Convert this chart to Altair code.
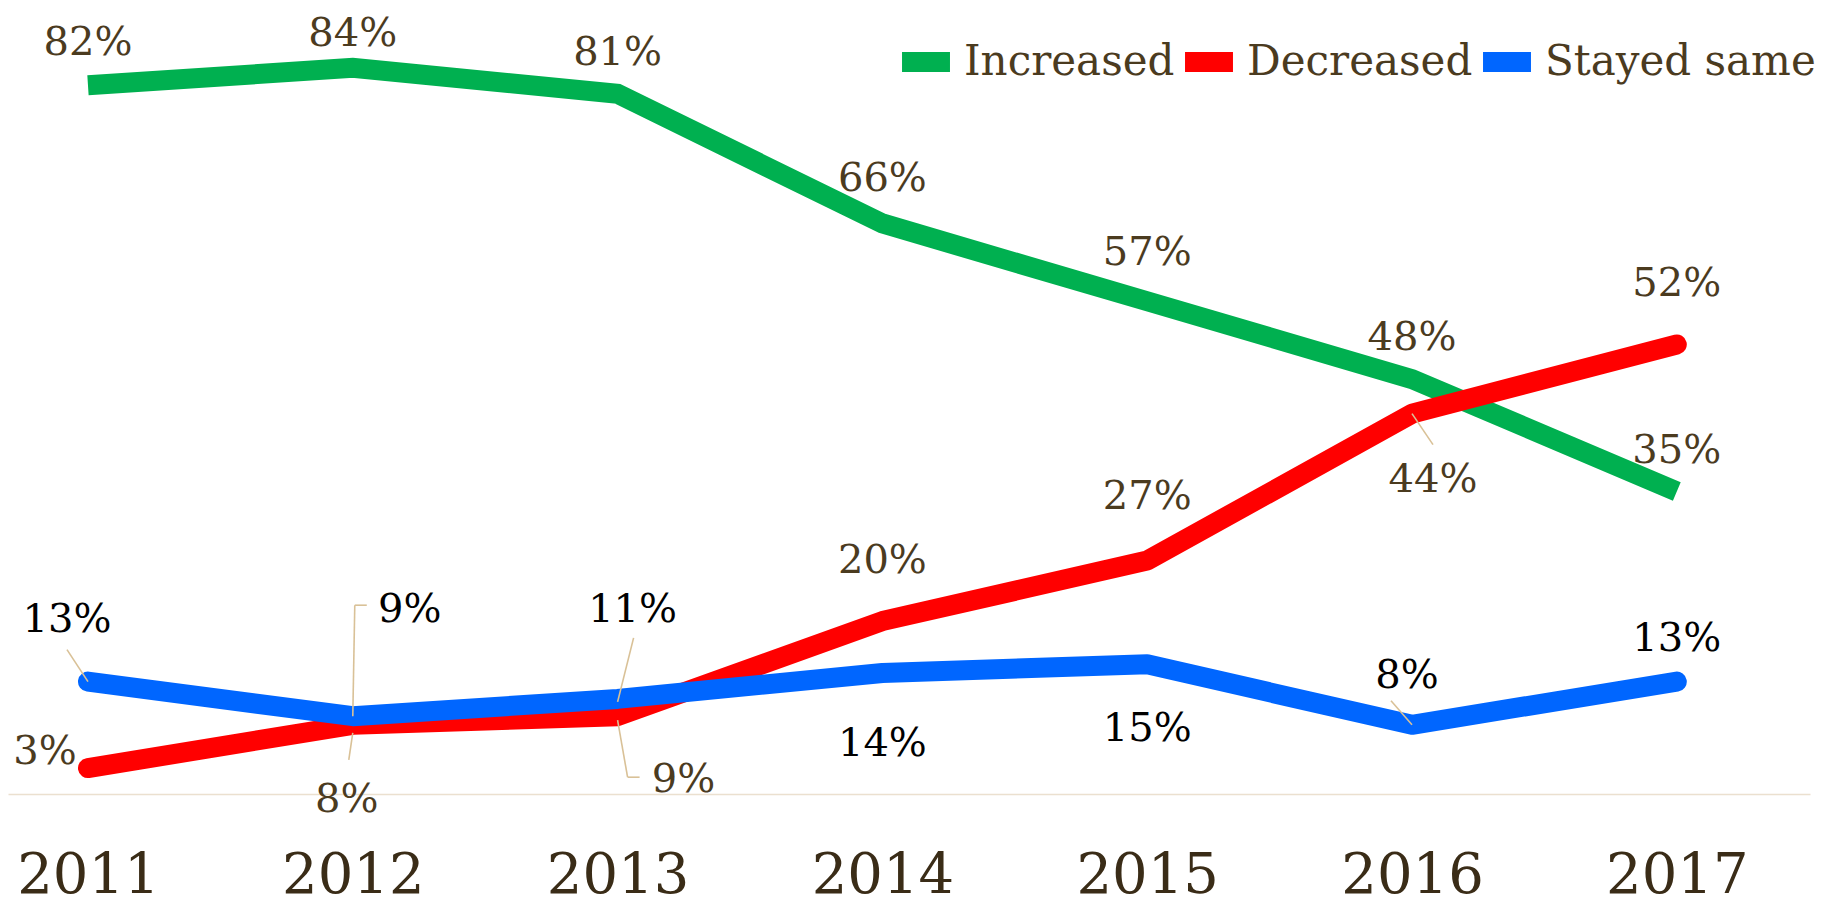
import altair as alt
import pandas as pd

years = [2011, 2012, 2013, 2014, 2015, 2016, 2017]
series = ["Increased", "Decreased", "Stayed same"]
increased = [82, 84, 81, 66, 57, 48, 35]
decreased = [3, 8, 9, 20, 27, 44, 52]
stayed = [13, 9, 11, 14, 15, 8, 13]
colors = ["#00b050", "#ff0000", "#0066ff"]
label_colors = ["#4b3b1f", "#4b3b1f", "#000000"]

# label offsets in pixels relative to the data point (layout only)
inc_dx = [0, 0, 0, 0, 0, 0, 0]
inc_dy = [-42, -34, -41, -44, -48, -41, -40]
dec_dx = [-43, -6, 66, 0, 0, 21, 0]
dec_dy = [-16, 75, 64, -60, -64, 66, -60]
sta_dx = [-21, 57, 15, 0, 0, -5, 0]
sta_dy = [-62, -106, -89, 71, 65, -49, -43]

# leader lines: series, year, start offset (px), end offset (px)
leader_series = ["Decreased", "Decreased", "Decreased", "Decreased",
                 "Stayed same", "Stayed same", "Stayed same", "Stayed same", "Stayed same"]
leader_year = [2012, 2013, 2013, 2016,
               2011, 2012, 2012, 2013, 2016]
leader_x1 = [0, 0, 10, 0, 0, 0, 2, 0, 0]
leader_y1 = [8, 4, 61, 0, 0, 0, -111, 3, 0]
leader_x2 = [-4, 10, 22, 21, -21, 2, 14, 16, -21]
leader_y2 = [35, 61, 61, 31, -32, -111, -111, -61, -24]

W, H = 1802, 778
XDOM = [2010.698, 2017.503]
YDOM = [0, 90]
PXY = W / (XDOM[1] - XDOM[0])
PXP = H / (YDOM[1] - YDOM[0])

FONT = "DejaVu Serif"

rows = []
for s, vals, dxs, dys, lc in zip(series, [increased, decreased, stayed],
                                 [inc_dx, dec_dx, sta_dx], [inc_dy, dec_dy, sta_dy],
                                 label_colors):
    for yr, v, dx, dy in zip(years, vals, dxs, dys):
        rows.append({"series": s, "year": yr, "value": v,
                     "label": f"{v}%",
                     "lx": yr + dx / PXY, "ly": v - dy / PXP, "lcolor": lc})
df = pd.DataFrame(rows)

lookup = {(r["series"], r["year"]): r["value"] for r in rows}
lead = []
for s, yr, x1, y1, x2, y2 in zip(leader_series, leader_year, leader_x1, leader_y1,
                                 leader_x2, leader_y2):
    v = lookup[(s, yr)]
    lead.append({"x": yr + x1 / PXY, "y": v - y1 / PXP,
                 "x2": yr + x2 / PXY, "y2": v - y2 / PXP})
ldf = pd.DataFrame(lead)

xscale = alt.Scale(domain=XDOM, nice=False, zero=False)
yscale = alt.Scale(domain=YDOM, nice=False)

xaxis = alt.Axis(values=years, format="d", labelFontSize=56, labelFont=FONT,
                 labelColor="#3a2c17", domainColor="#ebe0cf", domainWidth=1.5,
                 ticks=False, tickSize=0, grid=False, title=None,
                 labelBaseline="alphabetic", labelPadding=98,
                 labelFlush=False, labelOverlap=False)

color_enc = alt.Color("series:N",
                      scale=alt.Scale(domain=series, range=colors),
                      legend=alt.Legend(orient="none", legendX=884, legendY=12,
                                        direction="horizontal", title=None,
                                        symbolType="stroke", symbolStrokeWidth=20,
                                        symbolSize=2300, labelFontSize=42,
                                        labelFont=FONT, labelColor="#4b3b1f",
                                        labelLimit=400, columnPadding=-34,
                                        labelOffset=4))

base = alt.Chart(df)

def line_layer(name, cap):
    return base.transform_filter(alt.datum.series == name).mark_line(
        strokeWidth=20, strokeCap=cap, strokeJoin="round" if cap == "round" else "miter"
    ).encode(
        x=alt.X("year:Q", scale=xscale, axis=xaxis),
        y=alt.Y("value:Q", scale=yscale, axis=None),
        color=color_enc,
    )

lines = [line_layer("Increased", "butt"),
         line_layer("Decreased", "round"),
         line_layer("Stayed same", "round")]

leaders = alt.Chart(ldf).mark_rule(color="#d9c197", strokeWidth=1.6).encode(
    x=alt.X("x:Q", scale=xscale),
    y=alt.Y("y:Q", scale=yscale),
    x2="x2:Q",
    y2="y2:Q",
)

labels = base.mark_text(font=FONT, fontSize=40, align="center",
                        baseline="middle").encode(
    x=alt.X("lx:Q", scale=xscale),
    y=alt.Y("ly:Q", scale=yscale),
    text="label:N",
    color=alt.Color("lcolor:N", scale=None),
)

chart = alt.layer(*lines, leaders, labels).properties(
    width=W, height=H,
    autosize=alt.AutoSizeParams(type="none"),
    padding={"left": 0, "top": 8, "right": 21, "bottom": 110},
    background="white",
).configure_view(stroke=None)

chart.save("out.html", embed_options={"renderer": "svg", "actions": False})
